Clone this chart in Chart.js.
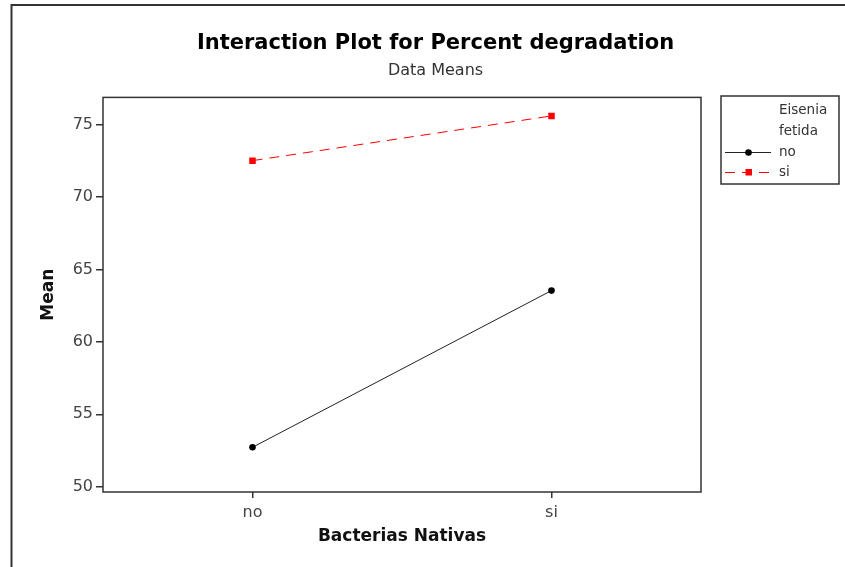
<!DOCTYPE html>
<html>
<head>
<meta charset="utf-8">
<script src="https://cdn.jsdelivr.net/npm/chart.js@4.4.1/dist/chart.umd.min.js"></script>
<style>
  html, body { margin: 0; padding: 0; background: #fff; }
  #wrap { position: relative; width: 845px; height: 567px; }
</style>
</head>
<body>
<div id="wrap"><canvas id="c" width="845" height="567"></canvas></div>
<script>
// ---- data ----
const categories = ['no', 'si'];             // Bacterias Nativas
const seriesLabels = ['no', 'si'];           // Eisenia fetida
const meansEiseniaNo = [52.72, 63.55];
const meansEiseniaSi = [72.53, 75.62];
const yTicks = [50, 55, 60, 65, 70, 75];
const legendTitle = ['Eisenia', 'fetida'];

const FONT = "'DejaVu Sans', Verdana, Tahoma, sans-serif";

const framePlugin = {
  id: 'frame',
  beforeDraw(chart) {
    const ctx = chart.ctx;
    ctx.save();
    ctx.fillStyle = '#fff';
    ctx.fillRect(0, 0, chart.width, chart.height);
    ctx.strokeStyle = '#333';
    ctx.lineWidth = 2;
    ctx.beginPath();
    ctx.moveTo(11.5, chart.height + 5);
    ctx.lineTo(11.5, 5);
    ctx.lineTo(chart.width + 5, 5);
    ctx.stroke();
    ctx.restore();
  },
  afterDraw(chart) {
    const ctx = chart.ctx;
    const a = chart.chartArea;
    ctx.save();
    ctx.strokeStyle = '#333';
    ctx.lineWidth = 1.5;
    ctx.strokeRect(a.left, a.top, a.right - a.left, a.bottom - a.top);
    // legend
    const lx = 721, ly = 96, lw = 118, lh = 88;
    ctx.strokeRect(lx, ly, lw, lh);
    ctx.fillStyle = '#333';
    ctx.font = "13.5px " + FONT;
    ctx.textBaseline = 'middle';
    ctx.textAlign = 'left';
    ctx.fillText(legendTitle[0], 779, 110);
    ctx.fillText(legendTitle[1], 779, 131);
    chart.data.datasets.forEach((ds, i) => {
      const y = 152 + i * 20;
      ctx.fillStyle = '#333';
      ctx.fillText(ds.label, 779, y);
      ctx.strokeStyle = ds.borderColor;
      ctx.lineWidth = 1;
      ctx.setLineDash(ds.borderDash || []);
      ctx.beginPath();
      ctx.moveTo(725, y + 0.5);
      ctx.lineTo(771, y + 0.5);
      ctx.stroke();
      ctx.setLineDash([]);
      ctx.fillStyle = ds.pointBackgroundColor;
      if (ds.pointStyle === 'rect') {
        ctx.fillRect(745.5, y - 3, 6.5, 6.5);
      } else {
        ctx.beginPath();
        ctx.arc(748.5, y + 0.5, 3.3, 0, Math.PI * 2);
        ctx.fill();
      }
    });
    ctx.restore();
  }
};

new Chart(document.getElementById('c'), {
  type: 'line',
  data: {
    labels: categories,
    datasets: [
      {
        label: seriesLabels[0],
        data: meansEiseniaNo,
        borderColor: '#222',
        backgroundColor: '#000',
        borderWidth: 1,
        pointStyle: 'circle',
        pointRadius: 3.3,
        pointBorderWidth: 0,
        pointBackgroundColor: '#000',
        tension: 0,
        fill: false
      },
      {
        label: seriesLabels[1],
        data: meansEiseniaSi,
        borderColor: '#ff0000',
        backgroundColor: '#ff0000',
        borderWidth: 1,
        borderDash: [10, 7],
        pointStyle: 'rect',
        pointRadius: 4.6,
        pointBorderWidth: 0,
        pointBackgroundColor: '#ff0000',
        tension: 0,
        fill: false
      }
    ]
  },
  options: {
    responsive: false,
    animation: false,
    layout: { padding: { left: 26, top: 0, right: 0, bottom: 0 } },
    plugins: {
      legend: { display: false },
      tooltip: { enabled: false },
      title: {
        display: true,
        text: 'Interaction Plot for Percent degradation',
        color: '#000',
        font: { family: FONT, size: 21, weight: 'bold' },
        padding: { top: 31, bottom: 0 }
      },
      subtitle: {
        display: true,
        text: 'Data Means',
        color: '#333',
        font: { family: FONT, size: 16 },
        padding: { top: 5, bottom: 17 }
      }
    },
    scales: {
      x: {
        type: 'category',
        offset: true,
        grid: { drawOnChartArea: false, drawTicks: true, tickLength: 6, color: '#333', lineWidth: 1.5 },
        border: { display: false },
        ticks: { color: '#444', font: { family: FONT, size: 16 }, padding: 5 },
        title: {
          display: true,
          text: 'Bacterias Nativas',
          color: '#111',
          font: { family: FONT, size: 17, weight: 'bold' },
          padding: { top: 0, bottom: 20 }
        },
        afterFit(s) { s.height = 75; }
      },
      y: {
        type: 'linear',
        min: 49.63,
        max: 76.9,
        afterBuildTicks(s) { s.ticks = yTicks.map(v => ({ value: v })); },
        grid: { drawOnChartArea: false, drawTicks: true, tickLength: 7, color: '#333', lineWidth: 1.5 },
        border: { display: false },
        ticks: { color: '#444', font: { family: FONT, size: 16 }, padding: 3 },
        title: {
          display: true,
          text: 'Mean',
          color: '#111',
          font: { family: FONT, size: 17, weight: 'bold' },
          padding: { top: 12, bottom: 0 }
        },
        afterFit(s) { s.width = 77; }
      },
      y2: {
        type: 'linear',
        position: 'right',
        display: true,
        min: 49.63,
        max: 76.9,
        grid: { display: false },
        border: { display: false },
        ticks: { display: false },
        afterFit(s) { s.width = 144; }
      }
    }
  },
  plugins: [framePlugin]
});
</script>
</body>
</html>
